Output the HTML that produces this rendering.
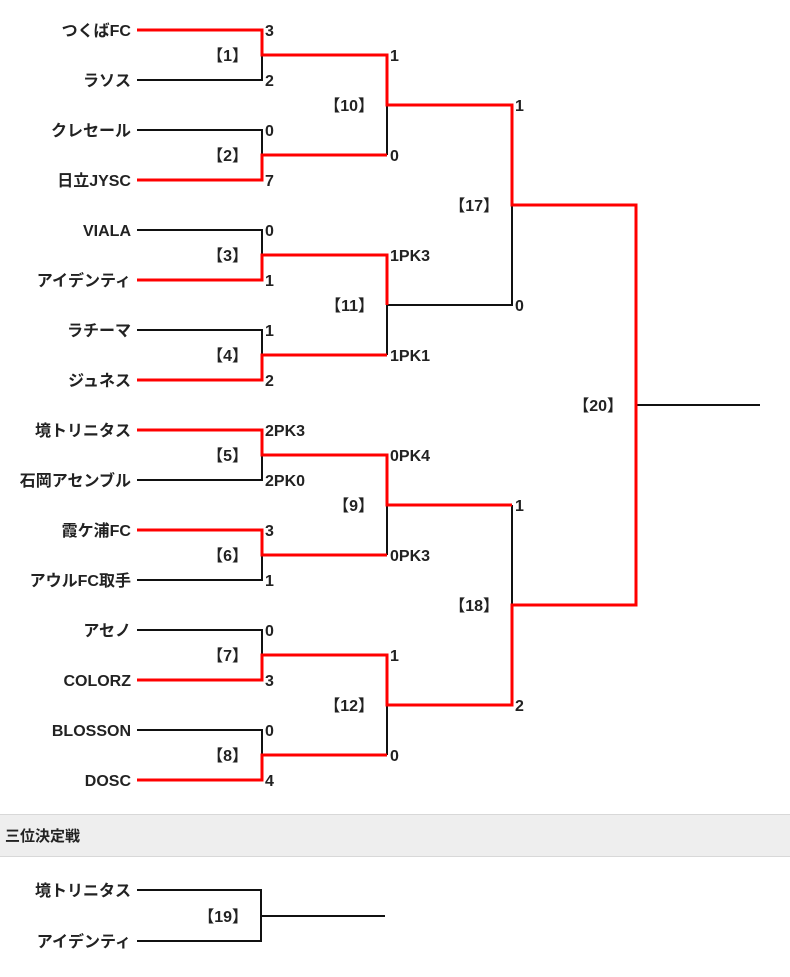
<!DOCTYPE html>
<html><head><meta charset="utf-8"><style>
html,body{margin:0;padding:0;background:#fff;}
svg text{font-family:"Liberation Sans","Noto Sans CJK JP",sans-serif;font-weight:bold;font-size:16px;fill:#222;}
</style></head><body>
<svg width="790" height="972" xmlns="http://www.w3.org/2000/svg">
<rect x="0" y="814" width="790" height="43" fill="#eeeeee"/>
<line x1="0" y1="814.5" x2="790" y2="814.5" stroke="#d8d8d8"/>
<line x1="0" y1="856.5" x2="790" y2="856.5" stroke="#d8d8d8"/>
<text x="5" y="841" style="font-size:15px">三位決定戦</text>

<g fill="none" stroke="#111" stroke-width="2">
<path d="M137 80H262V55"/>
<path d="M137 130H262V155"/>
<path d="M137 230H262V255"/>
<path d="M137 330H262V355"/>
<path d="M137 480H262V455"/>
<path d="M137 580H262V555"/>
<path d="M137 630H262V655"/>
<path d="M137 730H262V755"/>
<path d="M387 105V155"/>
<path d="M387 305V355"/>
<path d="M387 505V555"/>
<path d="M387 705V755"/>
<path d="M512 205V305H387"/>
<path d="M512 505V605"/>
<path d="M636 405H760"/>
<path d="M137 890H261V941H137M261 916H385"/>
</g>
<g fill="none" stroke="#f00" stroke-width="3">
<path d="M137 30H262V55H387V105H512V205H636V605H512V705H387V655H262V680H137"/>
<path d="M137 180H262V155H387"/>
<path d="M137 280H262V255H387V305"/>
<path d="M137 380H262V355H387"/>
<path d="M137 430H262V455H387V505H512"/>
<path d="M137 530H262V555H387"/>
<path d="M137 780H262V755H387"/>
</g>

<g text-anchor="end">
<text x="131" y="36">つくばFC</text>
<text x="131" y="86">ラソス</text>
<text x="131" y="136">クレセール</text>
<text x="131" y="186">日立JYSC</text>
<text x="131" y="236">VIALA</text>
<text x="131" y="286">アイデンティ</text>
<text x="131" y="336">ラチーマ</text>
<text x="131" y="386">ジュネス</text>
<text x="131" y="436">境トリニタス</text>
<text x="131" y="486">石岡アセンブル</text>
<text x="131" y="536">霞ケ浦FC</text>
<text x="131" y="586">アウルFC取手</text>
<text x="131" y="636">アセノ</text>
<text x="131" y="686">COLORZ</text>
<text x="131" y="736">BLOSSON</text>
<text x="131" y="786">DOSC</text>
<text x="131" y="896">境トリニタス</text>
<text x="131" y="947">アイデンティ</text>
<text x="248" y="61">【1】</text>
<text x="248" y="161">【2】</text>
<text x="248" y="261">【3】</text>
<text x="248" y="361">【4】</text>
<text x="248" y="461">【5】</text>
<text x="248" y="561">【6】</text>
<text x="248" y="661">【7】</text>
<text x="248" y="761">【8】</text>
<text x="374" y="111">【10】</text>
<text x="374" y="311">【11】</text>
<text x="374" y="511">【9】</text>
<text x="374" y="711">【12】</text>
<text x="499" y="211">【17】</text>
<text x="499" y="611">【18】</text>
<text x="623" y="411">【20】</text>
<text x="248" y="922">【19】</text>
</g>
<g>
<text x="265" y="36">3</text><text x="265" y="86">2</text>
<text x="265" y="136">0</text><text x="265" y="186">7</text>
<text x="265" y="236">0</text><text x="265" y="286">1</text>
<text x="265" y="336">1</text><text x="265" y="386">2</text>
<text x="265" y="436">2PK3</text><text x="265" y="486">2PK0</text>
<text x="265" y="536">3</text><text x="265" y="586">1</text>
<text x="265" y="636">0</text><text x="265" y="686">3</text>
<text x="265" y="736">0</text><text x="265" y="786">4</text>
<text x="390" y="61">1</text><text x="390" y="161">0</text>
<text x="390" y="261">1PK3</text><text x="390" y="361">1PK1</text>
<text x="390" y="461">0PK4</text><text x="390" y="561">0PK3</text>
<text x="390" y="661">1</text><text x="390" y="761">0</text>
<text x="515" y="111">1</text><text x="515" y="311">0</text>
<text x="515" y="511">1</text><text x="515" y="711">2</text>
</g>
</svg>
</body></html>
